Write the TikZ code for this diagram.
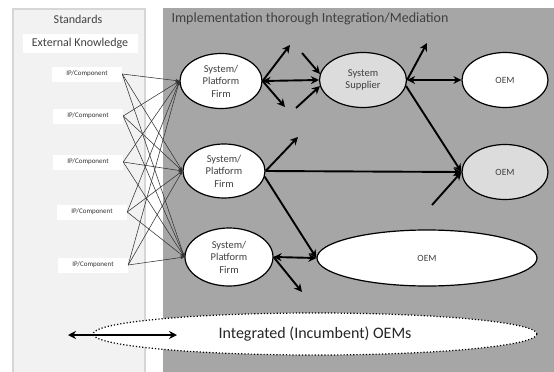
\documentclass[tikz,border=0pt]{standalone}
\usepackage{fontspec}
\setmainfont{Carlito}
\usetikzlibrary{shapes.geometric,arrows.meta}
\definecolor{panelL}{HTML}{F2F2F2}
\definecolor{panelLedge}{HTML}{D6D6D6}
\definecolor{panelR}{HTML}{A6A6A6}
\definecolor{txt}{HTML}{404040}
\definecolor{lightfill}{HTML}{DCDCDC}
\tikzset{
  firm/.style={ellipse, draw=black, line width=1.2pt, fill=white, inner sep=0pt,
    align=center, text=txt, font=\fontsize{10.5}{12.5}\selectfont},
  ipbox/.style={fill=white, minimum width=70pt, minimum height=15pt, inner sep=1pt,
    text=black!80, font=\fontsize{7}{8}\selectfont},
  thin link/.style={draw=black!80, line width=0.55pt, -{Stealth[length=4pt,width=3.5pt]}},
  bold link/.style={draw=black, line width=1.9pt, -{Stealth[length=8pt,width=8pt]}},
  bold both/.style={draw=black, line width=1.9pt, {Stealth[length=8pt,width=8pt]}-{Stealth[length=8pt,width=8pt]}},
  heading/.style={text=txt, font=\fontsize{12}{14}\selectfont}
}
\begin{document}
\begin{tikzpicture}[x=1pt,y=-1pt]
\useasboundingbox (0,0) rectangle (554,372);
\fill[white] (0,0) rectangle (554,372);
% background panels
\filldraw[fill=panelL, draw=panelLedge, line width=1.5pt] (13,9) rectangle (145,380);
\fill[panelR] (163,8) rectangle (554,372);

% headings
\node[heading] (std) at (78,19) {Standards};
\node[heading, fill=white, minimum width=115pt, minimum height=19pt, inner sep=1pt] (ext) at (80,43) {External Knowledge};
\node[heading, anchor=west, font=\fontsize{14}{16}\selectfont] (impl) at (168,19) {Implementation thorough Integration/Mediation};

% components
\node[ipbox] (ip1) at (87,74) {IP/Component};
\node[ipbox] (ip2) at (88,116) {IP/Component};
\node[ipbox] (ip3) at (88,162) {IP/Component};
\node[ipbox] (ip4) at (92,212) {IP/Component};
\node[ipbox] (ip5) at (93,265) {IP/Component};

% firms and OEMs
\node[firm, minimum width=82pt, minimum height=55pt] (f1) at (221,81) {System/\\Platform\\Firm};
\node[firm, minimum width=82pt, minimum height=54pt] (f2) at (224,171) {System/\\Platform\\Firm};
\node[firm, minimum width=88pt, minimum height=58pt] (f3) at (229,257) {System/\\Platform\\Firm};
\node[firm, fill=lightfill, minimum width=87pt, minimum height=55pt] (sup) at (363,80) {System\\Supplier};
\node[firm, minimum width=86pt, minimum height=55pt, font=\fontsize{9.5}{10}\selectfont] (oem1) at (505,80) {OEM};
\node[firm, fill=lightfill, minimum width=86pt, minimum height=55pt, font=\fontsize{9.5}{10}\selectfont] (oem2) at (505,172) {OEM};
\node[firm, minimum width=220pt, minimum height=56pt, font=\fontsize{9.5}{10}\selectfont] (oem3) at (427,258) {OEM};
\node[ellipse, draw=black, dotted, line width=1.2pt, fill=white, inner sep=0pt,
  minimum width=444pt, minimum height=42pt, text=black!85,
  font=\fontsize{16}{18}\selectfont] (integ) at (315,334) {Integrated (Incumbent) OEMs};

% component links
\foreach \i in {1,...,5}{
  \foreach \f in {f1,f2,f3}{
    \draw[thin link] (ip\i.east) -- (\f.west);
  }
}

% free ends of the stub arrows
\coordinate (u1) at (290,45);
\coordinate (d1) at (285,107);
\coordinate (s1) at (302,53);
\coordinate (s2) at (296,108);
\coordinate (u2) at (427,43);
\coordinate (u3) at (298,137);
\coordinate (s3) at (432,205);
\coordinate (d3) at (302,292);
\coordinate (bl) at (68,335);
\coordinate (br) at (177,335);

% main flows
\draw[bold both] (f1.east) -- (sup.west);
\draw[bold link] (f1.east) -- (u1);
\draw[bold link] (f1.east) -- (d1);
\draw[bold link] (s1) -- (sup.172);
\draw[bold link] (s2) -- (sup.188);
\draw[bold both] (sup.east) -- (oem1.west);
\draw[bold link] (sup.east) -- (u2);
\draw[bold link] (sup.-8) -- (oem2.west);
\draw[bold link] (f2.east) -- (u3);
\draw[bold link] (f2.east) -- (oem2.west);
\draw[bold link] (f2.-8) -- (oem3.west);
\draw[bold link] (s3) -- (oem2.west);
\draw[bold both] (f3.east) -- (oem3.west);
\draw[bold link] (f3.east) -- (d3);
\draw[bold both] (bl) -- (br);
\end{tikzpicture}
\end{document}
